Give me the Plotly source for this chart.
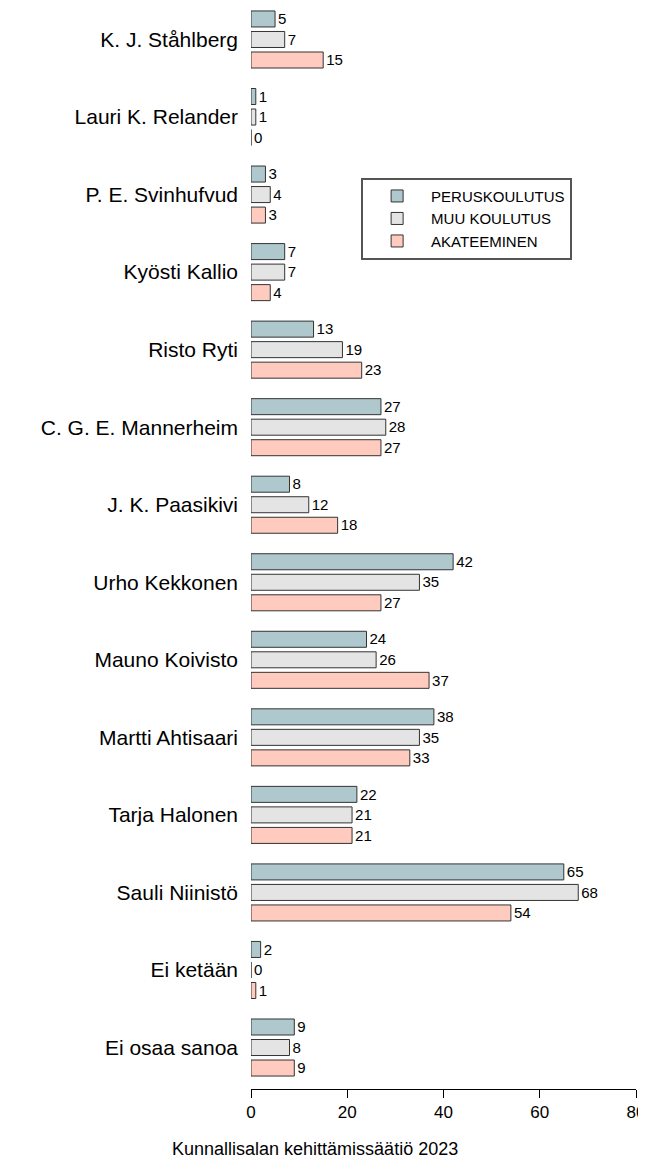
import plotly.graph_objects as go

categories = ["K. J. Ståhlberg", "Lauri K. Relander", "P. E. Svinhufvud", "Kyösti Kallio",
              "Risto Ryti", "C. G. E. Mannerheim", "J. K. Paasikivi", "Urho Kekkonen",
              "Mauno Koivisto", "Martti Ahtisaari", "Tarja Halonen", "Sauli Niinistö",
              "Ei ketään", "Ei osaa sanoa"]
peruskoulutus = [5, 1, 3, 7, 13, 27, 8, 42, 24, 38, 22, 65, 2, 9]
muu_koulutus = [7, 1, 4, 7, 19, 28, 12, 35, 26, 35, 21, 68, 0, 8]
akateeminen = [15, 0, 3, 4, 23, 27, 18, 27, 37, 33, 21, 54, 1, 9]
series_names = ["PERUSKOULUTUS", "MUU KOULUTUS", "AKATEEMINEN"]
colors = ["#aec8ce", "#e4e4e4", "#ffcbbf"]
x_ticks = [0, 20, 40, 60, 80]
source = "Kunnallisalan kehittämissäätiö 2023"

fig = go.Figure()
for name, vals, col in zip(series_names, [peruskoulutus, muu_koulutus, akateeminen], colors):
    fig.add_trace(go.Bar(
        y=categories, x=vals, name=name, orientation="h",
        marker=dict(color=col, line=dict(color="#333333", width=1)),
        text=[str(v) for v in vals], textposition="outside",
        textfont=dict(family="Liberation Sans, Arial", size=16, color="#000000"),
        cliponaxis=False,
    ))

# page has an 8px body margin; figure is sized/offset to compensate
fig.update_layout(
    width=638, height=1151,
    margin=dict(l=243, r=10, t=0, b=70),
    barmode="group", bargap=0.206, bargroupgap=0.22,
    plot_bgcolor="white", paper_bgcolor="white",
    font=dict(family="Liberation Sans, Arial", color="#000000"),
    showlegend=True,
    legend=dict(x=0.286, y=0.843, xanchor="left", yanchor="top",
                bordercolor="#555555", borderwidth=2, bgcolor="white",
                font=dict(size=15), traceorder="normal",
                itemwidth=58, tracegroupgap=0,
                entrywidth=162, entrywidthmode="pixels"),
    xaxis=dict(range=[0, 80], tickvals=x_ticks, showline=True, linecolor="#000000",
               ticks="outside", ticklen=8, tickcolor="#000000", showgrid=False,
               zeroline=False, tickfont=dict(size=17), ticklabeloverflow="allow"),
    yaxis=dict(categoryorder="array", categoryarray=categories,
               range=[13.535, -0.406], showgrid=False, showline=False, ticks="",
               tickfont=dict(size=21), ticklabelstandoff=12),
    annotations=[dict(text=source, xref="paper", yref="paper", x=(315 - 251) / 384.7,
                      y=-(1149 - 1089) / 1081, xanchor="center", yanchor="middle",
                      showarrow=False, font=dict(size=18))],
)

fig.write_html("out.html")
